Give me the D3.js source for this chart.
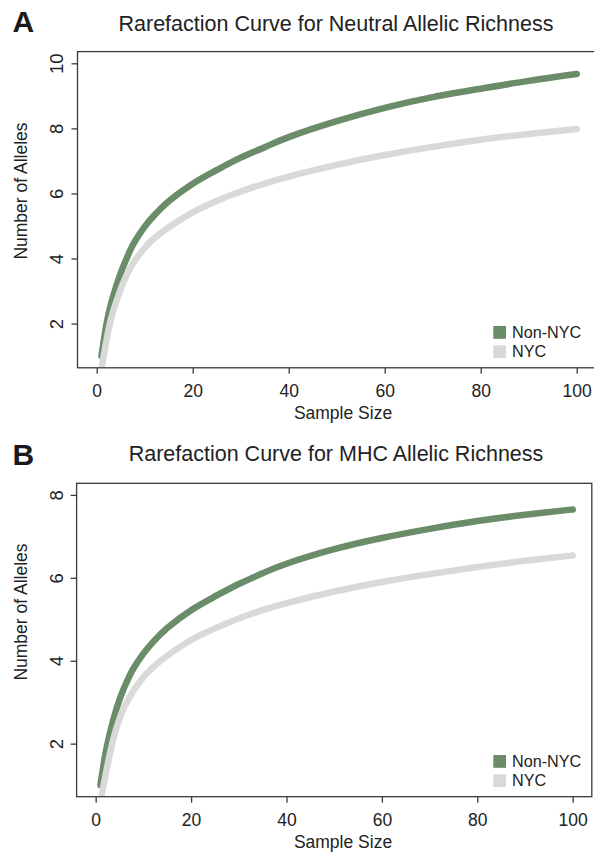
<!DOCTYPE html>
<html><head><meta charset="utf-8">
<script src="https://cdn.jsdelivr.net/npm/d3@7"></script>
<style>
html,body{margin:0;padding:0;background:#fff;}
svg{display:block;font-family:"Liberation Sans",Arial,sans-serif;}
</style></head>
<body>
<svg id="c" width="594" height="853"></svg>
<script>
// ---- data ----
const sampleSize = [1,2,3,4,5,6,7,8,10,12,15,20,25,30,35,40,50,60,70,80,90,100];
const neutralNonNYC = [1.0,1.95,2.62,3.12,3.55,3.92,4.26,4.54,4.98,5.33,5.76,6.30,6.72,7.10,7.42,7.73,8.22,8.63,8.96,9.22,9.46,9.67];
const neutralNYC    = [0.6,1.46,2.15,2.64,3.06,3.41,3.71,3.95,4.33,4.62,4.96,5.42,5.77,6.06,6.30,6.52,6.88,7.18,7.43,7.65,7.83,7.98];
const mhcNonNYC     = [1.0,1.73,2.26,2.70,3.06,3.36,3.61,3.83,4.17,4.45,4.79,5.22,5.55,5.85,6.11,6.34,6.69,6.96,7.18,7.37,7.52,7.65];
const mhcNYC        = [0.6,1.20,1.77,2.24,2.60,2.88,3.10,3.29,3.60,3.84,4.12,4.50,4.78,5.02,5.22,5.39,5.67,5.90,6.09,6.26,6.41,6.54];
const seriesNames = ["Non-NYC","NYC"];
const xTicks = [0,20,40,60,80,100];
const yTicksA = [2,4,6,8,10];
const yTicksB = [2,4,6,8];
const titles = ["Rarefaction Curve for Neutral Allelic Richness","Rarefaction Curve for MHC Allelic Richness"];
const panelLetters = ["A","B"];
const xLabel = "Sample Size";
const yLabel = "Number of Alleles";

const colors = ["#6a8c69","#d9d9d9"];
const axisCol = "#3a3a3a";
const textCol = "#222";

const svg = d3.select("#c");

const panels = [
  {letter:panelLetters[0], title:titles[0], series:[neutralNonNYC, neutralNYC], yTicks:yTicksA,
   yDom:[0.64,10.36], xR:[77.5,595.9], yR:[367.8,51.6], letterY:31.7, titleY:31, tickLblY:396.7, xLblY:418.5,
   yLblY:191, legY:[326,345.3]},
  {letter:panelLetters[1], title:titles[1], series:[mhcNonNYC, mhcNYC], yTicks:yTicksB,
   yDom:[0.72,8.28], xR:[76.6,591.8], yR:[796.7,483.3], letterY:465, titleY:461, tickLblY:826, xLblY:847.5,
   yLblY:612, legY:[755,774.3]}
];

panels.forEach((p,pi)=>{
  const x = d3.scaleLinear().domain([-4,104]).range(p.xR);
  const y = d3.scaleLinear().domain(p.yDom).range(p.yR);
  const g = svg.append("g");

  g.append("text").attr("x",12.5).attr("y",p.letterY).attr("font-size",30).attr("font-weight","bold")
    .attr("fill","#1a1a1a").text(p.letter);
  g.append("text").attr("x",336).attr("y",p.titleY).attr("text-anchor","middle").attr("font-size",21.5)
    .attr("fill",textCol).text(p.title);

  const cid = "clip"+pi;
  g.append("clipPath").attr("id",cid).append("rect")
    .attr("x",p.xR[0]).attr("y",p.yR[1]).attr("width",p.xR[1]-p.xR[0]).attr("height",p.yR[0]-p.yR[1]);

  const line = d3.line().x((d,i)=>x(sampleSize[i])).y(d=>y(d)).curve(d3.curveNatural);
  p.series.forEach((s,si)=>{
    g.append("path").attr("clip-path",`url(#${cid})`).datum(s).attr("d",line)
      .attr("fill","none").attr("stroke",colors[si]).attr("stroke-width",6.5)
      .attr("stroke-linecap","round").attr("stroke-linejoin","round");
  });

  g.append("rect").attr("x",p.xR[0]).attr("y",p.yR[1]).attr("width",p.xR[1]-p.xR[0]).attr("height",p.yR[0]-p.yR[1])
    .attr("fill","none").attr("stroke",axisCol).attr("stroke-width",1.3);

  const xa = g.append("g").attr("transform",`translate(0,${p.yR[0]})`)
    .call(d3.axisBottom(x).tickValues(xTicks).tickSize(6).tickSizeOuter(0).tickPadding(0));
  xa.select(".domain").remove();
  xa.selectAll("line").attr("stroke",axisCol).attr("stroke-width",1.3);
  xa.selectAll("text").attr("font-size",17.5).attr("fill",textCol).attr("dy",null)
    .attr("y",p.tickLblY-p.yR[0]).attr("font-family","Liberation Sans, Arial, sans-serif");

  const ya = g.append("g").attr("transform",`translate(${p.xR[0]},0)`)
    .call(d3.axisLeft(y).tickValues(p.yTicks).tickSize(6).tickSizeOuter(0));
  ya.select(".domain").remove();
  ya.selectAll("line").attr("stroke",axisCol).attr("stroke-width",1.3);
  ya.selectAll("text").attr("font-size",18.5).attr("fill",textCol).attr("dy",null).attr("x",null)
    .attr("text-anchor","middle").attr("font-family","Liberation Sans, Arial, sans-serif")
    .attr("transform",`translate(${63.3-p.xR[0]},0) rotate(-90)`);

  g.append("text").attr("x",343).attr("y",p.xLblY).attr("text-anchor","middle").attr("font-size",17.5)
    .attr("fill",textCol).text(xLabel);
  g.append("text").attr("transform",`translate(26.7,${p.yLblY}) rotate(-90)`).attr("text-anchor","middle")
    .attr("font-size",17.5).attr("fill",textCol).text(yLabel);

  seriesNames.forEach((n,si)=>{
    g.append("rect").attr("x",493.3).attr("y",p.legY[si]).attr("width",12.7).attr("height",12.8).attr("fill",colors[si]);
    g.append("text").attr("x",512).attr("y",p.legY[si]+11.5).attr("font-size",16.2).attr("fill",textCol).text(n);
  });
});
</script>
</body></html>
